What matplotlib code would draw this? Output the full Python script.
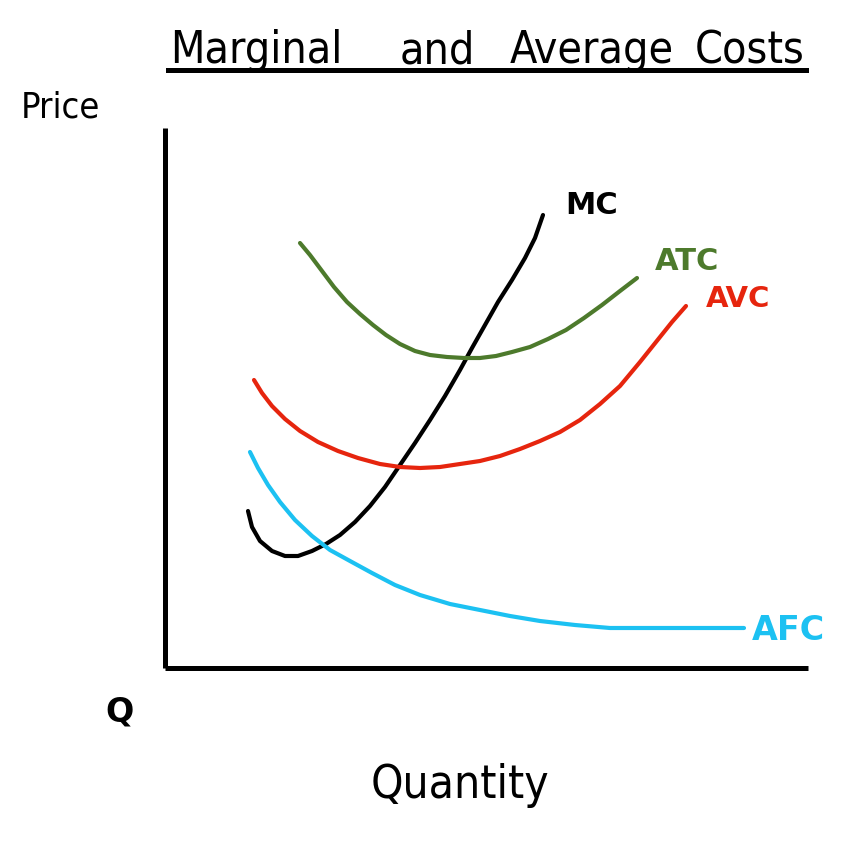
import matplotlib
matplotlib.use("Agg")
import matplotlib.pyplot as plt
from matplotlib.lines import Line2D

# curve points (x = quantity, y = price, arbitrary units)
mc_x = [83, 87, 95, 107, 120, 133, 147, 161, 175, 190, 205, 220, 235, 250,
        265, 280, 295, 307, 320, 333, 347, 360, 370, 378]
mc_y = [157, 141, 127, 117, 112, 112, 117, 124, 133, 146, 162, 181, 203, 225,
        248, 272, 298, 320, 343, 366, 388, 410, 430, 453]

atc_x = [135, 145, 157, 169, 182, 195, 208, 221, 235, 250, 265, 282, 299,
         315, 331, 347, 365, 383, 401, 419, 437, 455, 472]
atc_y = [425, 413, 397, 381, 366, 354, 343, 333, 324, 317, 313, 311, 310,
         310, 312, 316, 321, 329, 338, 350, 363, 377, 390]

avc_x = [89, 97, 107, 120, 135, 153, 173, 193, 215, 235, 255, 275, 295, 315,
         335, 355, 375, 395, 415, 435, 455, 475, 491, 507, 521]
avc_y = [288, 275, 262, 249, 237, 226, 217, 210, 204, 201, 200, 201, 204, 207,
         212, 219, 227, 236, 248, 264, 282, 306, 326, 346, 362]

afc_x = [85, 93, 103, 115, 130, 147, 165, 185, 207, 230, 255, 285, 315, 345,
         375, 410, 445, 485, 535, 579]
afc_y = [216, 200, 183, 166, 148, 132, 118, 107, 95, 83, 73, 64, 58, 52,
         47, 43, 40, 40, 40, 40]

curves = [
    ("MC", mc_x, mc_y, "black", (22, 10), 22),
    ("ATC", atc_x, atc_y, "#4d7a2c", (18, 16), 22),
    ("AVC", avc_x, avc_y, "#e6250e", (20, 7), 21),
    ("AFC", afc_x, afc_y, "#1cc1f2", (8, -2), 24),
]

title_words = ["Marginal", "and", "Average", "Costs"]

W, H = 856, 842
fig = plt.figure(figsize=(W / 100, H / 100), dpi=100)
ax = fig.add_axes([165 / W, (H - 668) / H, (808 - 165) / W, (668 - 128) / H])
ax.set_xlim(0, 643)
ax.set_ylim(0, 540)
for side in ["top", "right"]:
    ax.spines[side].set_visible(False)
for side in ["left", "bottom"]:
    ax.spines[side].set_linewidth(3.6)
    ax.spines[side].set_capstyle("butt")
ax.set_xticks([])
ax.set_yticks([])

hand = ["DejaVu Sans"]

for name, xs, ys, color, off, size in curves:
    ax.plot(xs, ys, color=color, lw=3.0, solid_capstyle="round",
            solid_joinstyle="round", clip_on=False)
    ax.annotate(name, xy=(xs[-1], ys[-1]), xytext=off,
                textcoords="offset pixels", color=color, fontsize=size,
                fontweight="bold", ha="left", va="center", family=hand)

# title, written word by word with wide gaps, then underlined
for word, px in zip(title_words, [170, 400, 510, 695]):
    fig.text(px / W, 1 - 63 / H, word, fontsize=32, ha="left",
             va="baseline", family=hand, stretch="condensed")
fig.add_artist(Line2D([168 / W, 806 / W], [1 - 70 / H, 1 - 70 / H],
                      color="black", lw=3.6, transform=fig.transFigure))

fig.text(60 / W, 1 - 108 / H, "Price", fontsize=26, ha="center", va="center",
         family=hand, stretch="condensed")
fig.text(120 / W, 1 - 712 / H, "Q", fontsize=24, fontweight="bold",
         ha="center", va="center", family=hand)
fig.text(460 / W, 1 - 785 / H, "Quantity", fontsize=33, ha="center",
         va="center", family=hand, stretch="condensed")

fig.savefig("out.png", dpi=100, facecolor="white")
